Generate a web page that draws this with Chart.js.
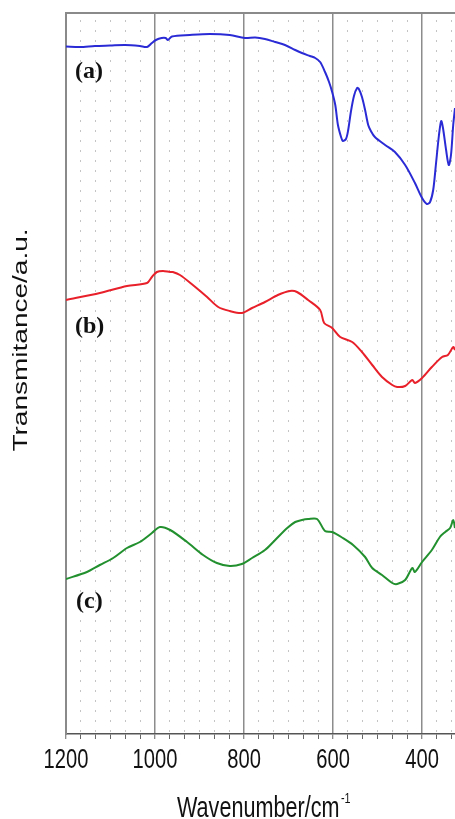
<!DOCTYPE html>
<html>
<head>
<meta charset="utf-8">
<script src="https://cdn.jsdelivr.net/npm/chart.js@4.4.1/dist/chart.umd.min.js"></script>
<style>
  html, body { margin:0; padding:0; background:#fff; }
  #wrap { width:455px; height:819px; }
</style>
</head>
<body>
<div id="wrap"><canvas id="ftir" width="455" height="819"></canvas></div>
<script>
/* FTIR 光谱 (a)(b)(c) */
const tickLabels = [1200, 1000, 800, 600, 400];

// (a) 蓝线
const waveA = [1200,1169,1135,1101,1067,1034,1018,1007,998,985,976,971,962,922,877,832,798,775,753,730,708,685,670,652,640,629,618,609,602,595,589,582,578,571,566,560,553,546,542,535,528,521,515,506,483,461,438,416,400,389,382,375,369,362,357,353,346,340,335,330,326];
const transA = [687.5,687,688,688.5,689,688,687,691,694,696,696,694,697.5,699,700,699,696,696.5,695,692,689,684,681,678,676,672,662,652,642,629,609,597,593,595,604,622,638,646,645,637,624,609,603,597,589,582,569,551,536,530,532,544,569,599,613,606,584,569,579,609,626];

// (b) 红线
const waveB = [1200,1124,1063,1018,1007,996,982,966,960,944,915,883,858,832,805,782,753,724,697,681,656,629,620,602,584,557,535,512,490,467,456,438,422,416,400,378,355,342,330,326];
const transB = [434,441,448,451,457,462,463,462,462,459,449,437,427,423,421,426,432,439,443,442,434,424,411,406,397,392,382,369,357,349,347,348,354,351,356,367,377,379,387,384];

// (c) 绿线
const waveC = [1200,1153,1124,1094,1063,1034,1007,989,966,928,892,861,832,805,782,753,730,703,685,670,656,636,618,602,578,555,528,512,490,467,456,438,422,416,400,378,360,348,337,330,326];
const transC = [155,162,169,176,186,192,201,207,204,192,179,171,168,170,176,184,194,206,212,214,215,215,203,202,196,189,177,166,159,151,150,154,166,162,172,184,197,202,206,214,206];

const pts = (xs, ys) => xs.map((x, i) => ({x, y: ys[i]}));
const isMajor = v => tickLabels.some(t => Math.abs(t - v) < 0.5);

// 刻度文字、标注与坐标标题(原图文字横向偏窄)
const textPlugin = {
  id: 'texts',
  afterDraw(chart) {
    const ctx = chart.ctx, a = chart.chartArea, sx = chart.scales.x;
    ctx.save();
    // 上边框
    ctx.strokeStyle = '#8a8a8a'; ctx.lineWidth = 2;
    ctx.beginPath(); ctx.moveTo(a.left, a.top); ctx.lineTo(a.right, a.top); ctx.stroke();
    ctx.fillStyle = '#111';
    // 刻度文字
    ctx.font = '28px "Liberation Sans"';
    ctx.textAlign = 'center';
    tickLabels.forEach(v => {
      ctx.save();
      ctx.translate(sx.getPixelForValue(v), 768); ctx.scale(0.72, 1);
      ctx.fillText(String(v), 0, 0);
      ctx.restore();
    });
    // (a)(b)(c)
    ctx.textAlign = 'left';
    ctx.font = 'bold 24px "Liberation Serif"';
    ctx.textBaseline = 'middle';
    [['(a)', 75, 72], ['(b)', 75, 327], ['(c)', 76, 602]].forEach(([t, x, y]) => ctx.fillText(t, x, y));
    // x 标题
    ctx.textBaseline = 'alphabetic';
    ctx.save();
    ctx.translate(177, 817); ctx.scale(0.72, 1);
    ctx.font = '30px "Liberation Sans"';
    ctx.fillText('Wavenumber/cm', 0, 0);
    const w = ctx.measureText('Wavenumber/cm').width;
    ctx.font = '15px "Liberation Sans"';
    ctx.fillText('-1', w + 2, -14);
    ctx.restore();
    // y 标题
    ctx.save();
    ctx.translate(27, 340); ctx.rotate(-Math.PI / 2); ctx.scale(1.4, 1);
    ctx.font = '20px "Liberation Sans"';
    ctx.textAlign = 'center';
    ctx.fillText('Transmitance/a.u.', 0, 0);
    ctx.restore();
    ctx.restore();
  }
};

const line = (data, color) => ({ data, borderColor: color, borderWidth: 2, pointRadius: 0, tension: 0.3, fill: false });

new Chart(document.getElementById('ftir'), {
  type: 'line',
  data: {
    datasets: [
      line(pts(waveA, transA), '#2b2bd6'),
      line(pts(waveB, transB), '#e8202a'),
      line(pts(waveC, transC), '#22902e')
    ]
  },
  options: {
    responsive: false, animation: false,
    layout: { padding: { left: 66, top: 13, right: 0, bottom: 0 } },
    plugins: { legend: { display: false }, tooltip: { enabled: false } },
    scales: {
      x: {
        type: 'linear', reverse: true, min: 326, max: 1200,
        afterBuildTicks: s => { const t = []; for (let k = 0; k <= 26; k++) t.push({ value: 1200 - k * 200 / 6 }); s.ticks = t; },
        afterFit: s => { s.height = 85; },
        ticks: { autoSkip: false, maxRotation: 0, callback: () => '' },
        grid: {
          color: c => isMajor(c.tick.value) ? '#8c8c8c' : '#c4c4c4',
          lineWidth: c => isMajor(c.tick.value) ? 1.5 : 1,
          tickColor: '#666', tickLength: 5, tickWidth: 1, tickBorderDash: []
        },
        border: {
          display: true, color: '#555', width: 1.5,
          dash: c => (c.tick && !isMajor(c.tick.value)) ? [2, 8] : [],
          dashOffset: 3
        }
      },
      y: {
        min: 0, max: 721,
        afterFit: s => { s.width = 0; },
        ticks: { display: false },
        grid: { display: false },
        border: { display: true, color: '#8a8a8a', width: 2 }
      }
    }
  },
  plugins: [textPlugin]
});
</script>
</body>
</html>
